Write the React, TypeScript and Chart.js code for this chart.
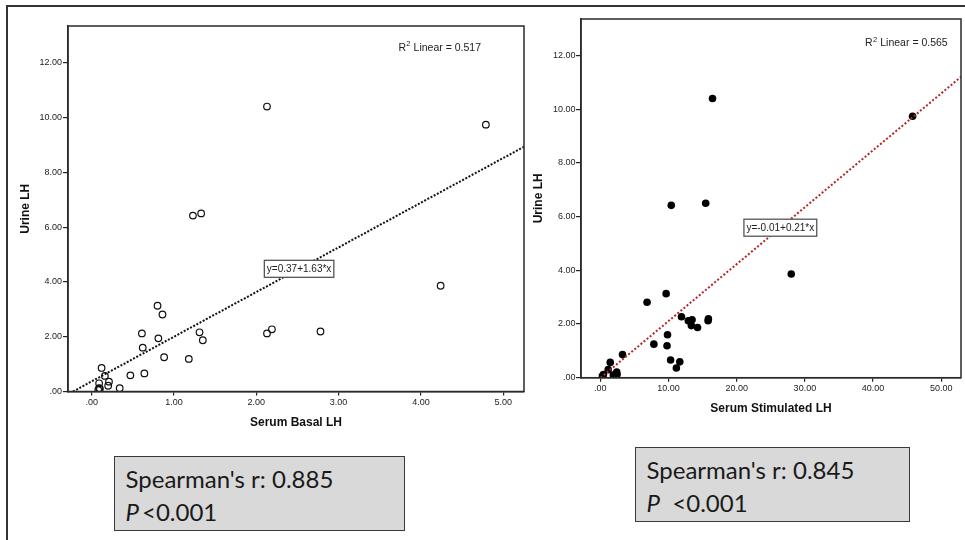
import React, { useEffect, useRef } from "react";
import { Chart, registerables } from "chart.js";

Chart.register(...registerables);

// ---------- data ----------
const urineLH = [
  10.4, 9.74, 6.42, 6.5, 3.86, 3.13, 2.81, 2.27, 2.19, 2.16, 2.12, 2.12, 1.94, 1.87,
  1.6, 1.25, 1.19, 0.66, 0.59, 0.36, 0.86, 0.57, 0.3, 0.21, 0.12, 0.12, 0.1, 0.06,
];
const serumBasalLH = [
  2.13, 4.79, 1.23, 1.33, 4.24, 0.8, 0.86, 2.19, 2.78, 1.31, 0.61, 2.13, 0.81, 1.35,
  0.62, 0.88, 1.18, 0.64, 0.47, 0.21, 0.12, 0.16, 0.09, 0.2, 0.09, 0.34, 0.1, 0.08,
];
const serumStimulatedLH = [
  16.45, 45.8, 10.4, 15.45, 28.0, 9.65, 6.85, 11.9, 15.85, 13.45, 12.9, 15.8, 13.35, 14.25,
  9.85, 7.85, 9.78, 10.3, 11.65, 11.15, 3.25, 1.45, 1.15, 2.4, 0.45, 2.45, 1.9, 0.3,
];

const urineTicks = [0, 2, 4, 6, 8, 10, 12];
const basalTicks = [0, 1, 2, 3, 4, 5];
const stimulatedTicks = [0, 10, 20, 30, 40, 50];

const basalFit = [0.37, 1.63]; // intercept, slope
const stimulatedFit = [-0.01, 0.212];
const basalR2 = [0.517];
const stimulatedR2 = [0.565];
const spearmanR = [0.885, 0.845];

const FONT = '"Liberation Sans", Arial, Helvetica, sans-serif';
Chart.defaults.font.family = FONT;

const fmt = (v: number) => {
  const s = v.toFixed(2);
  return s.startsWith("0.") ? s.slice(1) : s;
};

type Panel = {
  xs: number[];
  xTicks: number[];
  xMin: number;
  xMax: number;
  yMax: number;
  fit: number[];
  r2: number;
  xTitle: string;
  width: number;
  height: number;
  padding: { left: number; top: number; right: number; bottom: number };
  yAxisW: number;
  xAxisH: number;
  yTitlePad: number;
  xTitlePad: number;
  xTickPad: number;
  yTickLen: number;
  yTickPad: number;
  r2Right: number;
  r2Y: number;
  eqAt: number;
  lineColor: string;
  lineDash: number[];
  filled: boolean;
  radius: number;
};

function makePlugin(p: Panel) {
  return {
    id: "spssDecor",
    afterDatasetsDraw(chart: any) {
      const { ctx, chartArea: a, scales } = chart;
      ctx.save();
      // frame around plot area
      ctx.strokeStyle = "#2a2a2a";
      ctx.lineWidth = 1.5;
      ctx.strokeRect(a.left, a.top, a.right - a.left, a.bottom - a.top);

      // R² label
      ctx.fillStyle = "#222";
      ctx.textBaseline = "middle";
      ctx.textAlign = "left";
      const rest = " Linear = " + p.r2.toFixed(3);
      ctx.font = `10.5px ${FONT}`;
      const wR = ctx.measureText("R").width;
      const wRest = ctx.measureText(rest).width;
      ctx.font = `7.5px ${FONT}`;
      const w2 = ctx.measureText("2").width;
      const x0 = p.r2Right - wRest - w2 - wR - 0.5;
      ctx.font = `10.5px ${FONT}`;
      ctx.fillText("R", x0, p.r2Y);
      ctx.fillText(rest, x0 + wR + w2 + 0.5, p.r2Y);
      ctx.font = `7.5px ${FONT}`;
      ctx.fillText("2", x0 + wR + 0.3, p.r2Y - 3.5);

      // equation box on the fit line
      const a0 = p.fit[0];
      const b = p.fit[1];
      const eq = `y=${a0.toFixed(2)}+${b.toFixed(2)}*x`;
      const cx = scales.x.getPixelForValue(p.eqAt);
      const cy = scales.y.getPixelForValue(a0 + b * p.eqAt);
      ctx.font = `10px ${FONT}`;
      const tw = ctx.measureText(eq).width;
      const bw = tw + 5;
      const bh = 17;
      ctx.fillStyle = "#fff";
      ctx.fillRect(cx - bw / 2, cy - bh / 2, bw, bh);
      ctx.strokeStyle = "#555";
      ctx.lineWidth = 1.3;
      ctx.strokeRect(cx - bw / 2, cy - bh / 2, bw, bh);
      ctx.fillStyle = "#222";
      ctx.textAlign = "center";
      ctx.fillText(eq, cx, cy + 0.5);
      ctx.restore();
    },
  };
}

function buildConfig(p: Panel): any {
  const f = (x: number) => p.fit[0] + p.fit[1] * x;
  const xStart = -p.fit[0] / p.fit[1];
  return {
    type: "scatter",
    data: {
      datasets: [
        {
          type: "line",
          data: [
            { x: xStart, y: f(xStart) },
            { x: p.xMax, y: f(p.xMax) },
          ],
          borderColor: p.lineColor,
          borderWidth: 2,
          borderDash: p.lineDash,
          pointRadius: 0,
          fill: false,
          tension: 0,
        },
        {
          type: "scatter",
          data: p.xs.map((x, i) => ({ x, y: urineLH[i] })),
          pointRadius: p.radius,
          pointBorderWidth: p.filled ? 0 : 1.2,
          pointBorderColor: "#111",
          pointBackgroundColor: p.filled ? "#000" : "rgba(255,255,255,0)",
        },
      ],
    },
    options: {
      responsive: false,
      animation: false,
      devicePixelRatio: 1,
      events: [],
      layout: { padding: p.padding },
      plugins: { legend: { display: false }, tooltip: { enabled: false } },
      scales: {
        x: {
          type: "linear",
          min: p.xMin,
          max: p.xMax,
          afterBuildTicks: (s: any) => {
            s.ticks = p.xTicks.map((v) => ({ value: v }));
          },
          afterFit: (s: any) => {
            s.height = p.xAxisH;
          },
          ticks: {
            callback: (v: any) => fmt(Number(v)),
            autoSkip: false,
            maxRotation: 0,
            padding: p.xTickPad,
            font: { size: 9 },
            color: "#222",
          },
          grid: { drawOnChartArea: false, drawTicks: true, tickLength: 4, color: "#222", lineWidth: 1.2 },
          border: { display: true, color: "#2a2a2a", width: 1.5 },
          title: {
            display: true,
            text: p.xTitle,
            color: "#111",
            font: { size: 12, weight: "bold" },
            padding: { top: 0, bottom: p.xTitlePad },
          },
        },
        y: {
          type: "linear",
          min: 0,
          max: p.yMax,
          afterBuildTicks: (s: any) => {
            s.ticks = urineTicks.map((v) => ({ value: v }));
          },
          afterFit: (s: any) => {
            s.width = p.yAxisW;
          },
          ticks: {
            callback: (v: any) => fmt(Number(v)),
            autoSkip: false,
            padding: p.yTickPad,
            font: { size: 9 },
            color: "#222",
          },
          grid: { drawOnChartArea: false, drawTicks: true, tickLength: p.yTickLen, color: "#222", lineWidth: 1.2 },
          border: { display: true, color: "#2a2a2a", width: 1.5 },
          title: {
            display: true,
            text: "Urine LH",
            color: "#111",
            font: { size: 12, weight: "bold" },
            padding: { top: p.yTitlePad, bottom: 0 },
          },
        },
      },
    },
    plugins: [makePlugin(p)],
  };
}

const leftPanel: Panel = {
  xs: serumBasalLH,
  xTicks: basalTicks,
  xMin: -0.288,
  xMax: 5.253,
  yMax: 13.34,
  fit: basalFit,
  r2: basalR2[0],
  xTitle: "Serum Basal LH",
  width: 530,
  height: 440,
  padding: { left: 14, top: 26, right: 6, bottom: 5 },
  yAxisW: 54,
  xAxisH: 43.5,
  yTitlePad: 4.5,
  xTitlePad: 5.1,
  xTickPad: 1.8,
  yTickLen: 5,
  yTickPad: 1,
  r2Right: 481,
  r2Y: 47.7,
  eqAt: 2.52,
  lineColor: "#111",
  lineDash: [2, 1.6],
  filled: false,
  radius: 3.3,
};

const rightPanel: Panel = {
  xs: serumStimulatedLH,
  xTicks: stimulatedTicks,
  xMin: -2.84,
  xMax: 52.9,
  yMax: 13.36,
  fit: stimulatedFit,
  r2: stimulatedR2[0],
  xTitle: "Serum Stimulated LH",
  width: 435,
  height: 440,
  padding: { left: 0, top: 19, right: 1.7, bottom: 20 },
  yAxisW: 51,
  xAxisH: 42.3,
  yTitlePad: 1.8,
  xTitlePad: 4.5,
  xTickPad: 1.2,
  yTickLen: 5,
  yTickPad: 0.5,
  r2Right: 417.7,
  r2Y: 43.3,
  eqAt: 26.4,
  lineColor: "#b3262a",
  lineDash: [2, 2],
  filled: true,
  radius: 3.8,
};

function ChartCanvas({ panel, left }: { panel: Panel; left: number }) {
  const ref = useRef<HTMLCanvasElement>(null);
  useEffect(() => {
    const chart = new Chart(ref.current as HTMLCanvasElement, buildConfig(panel));
    return () => chart.destroy();
  }, [panel]);
  return (
    <canvas
      ref={ref}
      width={panel.width}
      height={panel.height}
      style={{ position: "absolute", left, top: 0, width: panel.width, height: panel.height }}
    />
  );
}

function StatBox({ r, gap, style }: { r: number; gap: string; style: React.CSSProperties }) {
  return (
    <div
      style={{
        position: "absolute",
        boxSizing: "border-box",
        background: "#d9d9d9",
        border: "1.5px solid #3a3a3a",
        fontFamily: "Lato, 'Open Sans', sans-serif",
        fontSize: 24,
        lineHeight: "33px",
        color: "#1a1a1a",
        paddingTop: 4.5,
        paddingLeft: 10.5,
        whiteSpace: "nowrap",
        ...style,
      }}
    >
      <div>{`Spearman's r: ${r.toFixed(3)}`}</div>
      <div>
        <i>P</i>
        {gap}&lt;0.001
      </div>
    </div>
  );
}

export default function App() {
  return (
    <div
      style={{
        position: "absolute",
        left: 0,
        top: 0,
        width: 965,
        height: 540,
        overflow: "hidden",
        background: "#fff",
      }}
    >
      <div
        style={{
          position: "absolute",
          left: 6,
          top: 5,
          width: 1000,
          height: 600,
          borderTop: "2px solid #333",
          borderLeft: "2px solid #333",
        }}
      />
      <ChartCanvas panel={leftPanel} left={0} />
      <ChartCanvas panel={rightPanel} left={530} />
      <StatBox r={spearmanR[0]} gap={"\u2009"} style={{ left: 114, top: 456, width: 291, height: 75 }} />
      <StatBox r={spearmanR[1]} gap={"\u00a0\u00a0"} style={{ left: 635, top: 447, width: 275, height: 75 }} />
    </div>
  );
}
